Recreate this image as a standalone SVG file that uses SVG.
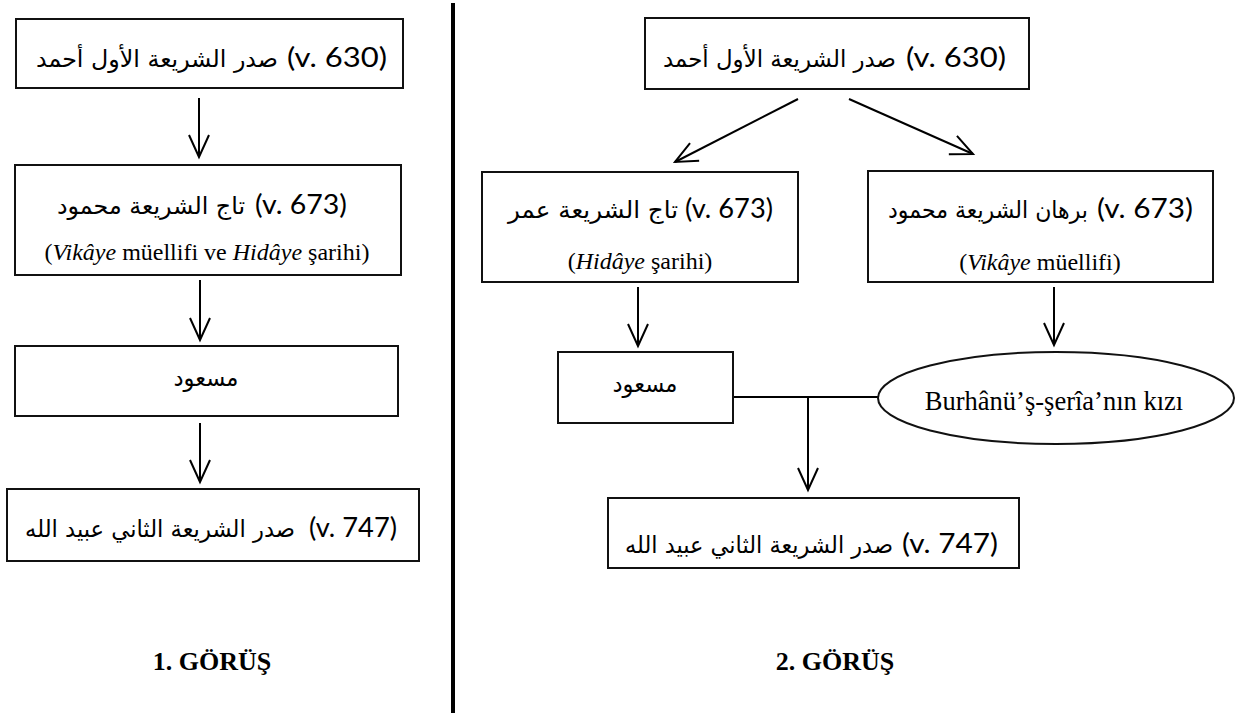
<svg xmlns="http://www.w3.org/2000/svg" width="1249" height="713" viewBox="0 0 1249 713">
<defs>
<style>
.box{fill:#fff;stroke:#111;stroke-width:2}
.ln{fill:none;stroke:#000;stroke-width:2}
.ar{font-family:"DejaVu Sans",sans-serif;font-size:23.5px;fill:#000}
.lat{font-family:Lato,"Open Sans",sans-serif;font-size:26px;fill:#000}
.ser{font-family:"Liberation Serif",serif;font-size:24px;fill:#000}
.big{font-family:"Liberation Serif",serif;font-size:26.5px;fill:#000}
.ttl{font-family:"Liberation Serif",serif;font-size:26px;font-weight:bold;fill:#000}
.it{font-style:italic}
</style>
<marker id="ah" viewBox="-25 -13 28 26" refX="0" refY="0" markerWidth="28" markerHeight="26" markerUnits="userSpaceOnUse" orient="auto">
<path d="M-22,-10 L0,0 L-22,10" fill="none" stroke="#000" stroke-width="2" stroke-linejoin="miter"/>
</marker>
</defs>
<rect width="1249" height="713" fill="#fff"/>

<g id="divider"><rect x="451" y="3" width="4" height="710" fill="#000"/></g>

<g id="connectors">
<line class="ln" x1="199" y1="98" x2="199" y2="157" marker-end="url(#ah)"/>
<line class="ln" x1="200" y1="280" x2="200" y2="340" marker-end="url(#ah)"/>
<line class="ln" x1="200" y1="423" x2="200" y2="482" marker-end="url(#ah)"/>
<line class="ln" x1="798" y1="99" x2="675" y2="162" marker-end="url(#ah)"/>
<line class="ln" x1="849" y1="99" x2="973" y2="154" marker-end="url(#ah)"/>
<line class="ln" x1="638" y1="287" x2="638" y2="346" marker-end="url(#ah)"/>
<line class="ln" x1="1054" y1="287" x2="1054" y2="345" marker-end="url(#ah)"/>
<line class="ln" x1="733" y1="397" x2="878" y2="397"/>
<line class="ln" x1="808" y1="397" x2="808" y2="490" marker-end="url(#ah)"/>
</g>

<g id="l-ahmad">
<rect class="box" x="16" y="19" width="387" height="69"/>
<text class="lat" x="337" y="67" text-anchor="middle" textLength="100" lengthAdjust="spacingAndGlyphs">(v. 630)</text>
<text class="ar" x="278" y="67" text-anchor="end" textLength="242" lengthAdjust="spacingAndGlyphs">صدر الشريعة الأول أحمد</text>
</g>

<g id="l-tac">
<rect class="box" x="15" y="165" width="386" height="110"/>
<text class="lat" x="301" y="214" text-anchor="middle" textLength="92" lengthAdjust="spacingAndGlyphs">(v. 673)</text>
<text class="ar" x="245" y="214" text-anchor="end" textLength="188" lengthAdjust="spacingAndGlyphs">تاج الشريعة محمود</text>
<text class="ser" x="207" y="260" text-anchor="middle">(<tspan class="it">Vikâye</tspan> müellifi ve <tspan class="it">Hidâye</tspan> şarihi)</text>
</g>

<g id="l-mesud">
<rect class="box" x="15" y="346" width="383" height="70"/>
<text class="ar" x="206" y="386" text-anchor="middle" textLength="65" lengthAdjust="spacingAndGlyphs">مسعود</text>
</g>

<g id="l-ubeydullah">
<rect class="box" x="7" y="489" width="412" height="72"/>
<text class="lat" x="353" y="537" text-anchor="middle" textLength="88" lengthAdjust="spacingAndGlyphs">(v. 747)</text>
<text class="ar" x="295" y="537" text-anchor="end" textLength="270" lengthAdjust="spacingAndGlyphs">صدر الشريعة الثاني عبيد الله</text>
</g>

<g id="title1"><text class="ttl" x="212" y="670" text-anchor="middle">1. GÖRÜŞ</text></g>

<g id="r-ahmad">
<rect class="box" x="645" y="18" width="384" height="71"/>
<text class="lat" x="956" y="67" text-anchor="middle" textLength="100" lengthAdjust="spacingAndGlyphs">(v. 630)</text>
<text class="ar" x="896" y="67" text-anchor="end" textLength="233" lengthAdjust="spacingAndGlyphs">صدر الشريعة الأول أحمد</text>
</g>

<g id="r-tac">
<rect class="box" x="482" y="172" width="316" height="110"/>
<text class="lat" x="729" y="218" text-anchor="middle" textLength="88" lengthAdjust="spacingAndGlyphs">(v. 673)</text>
<text class="ar" x="678" y="218" text-anchor="end" textLength="170" lengthAdjust="spacingAndGlyphs">تاج الشريعة عمر</text>
<text class="ser" x="640" y="269" text-anchor="middle">(<tspan class="it">Hidâye</tspan> şarihi)</text>
</g>

<g id="r-burhan">
<rect class="box" x="868" y="171" width="345" height="111"/>
<text class="lat" x="1145" y="218" text-anchor="middle" textLength="96" lengthAdjust="spacingAndGlyphs">(v. 673)</text>
<text class="ar" x="1088" y="218" text-anchor="end" textLength="200" lengthAdjust="spacingAndGlyphs">برهان الشريعة محمود</text>
<text class="ser" x="1040" y="270" text-anchor="middle">(<tspan class="it">Vikâye</tspan> müellifi)</text>
</g>

<g id="r-mesud">
<rect class="box" x="558" y="352" width="175" height="71"/>
<text class="ar" x="645" y="392" text-anchor="middle" textLength="65" lengthAdjust="spacingAndGlyphs">مسعود</text>
</g>

<g id="r-kizi">
<ellipse class="box" cx="1056" cy="398" rx="178" ry="46"/>
<text class="big" x="1054" y="410" text-anchor="middle">Burhânü’ş-şerîa’nın kızı</text>
</g>

<g id="r-ubeydullah">
<rect class="box" x="608" y="498" width="411" height="70"/>
<text class="lat" x="950" y="553" text-anchor="middle" textLength="96" lengthAdjust="spacingAndGlyphs">(v. 747)</text>
<text class="ar" x="893" y="553" text-anchor="end" textLength="268" lengthAdjust="spacingAndGlyphs">صدر الشريعة الثاني عبيد الله</text>
</g>

<g id="title2"><text class="ttl" x="835" y="670" text-anchor="middle">2. GÖRÜŞ</text></g>
</svg>
